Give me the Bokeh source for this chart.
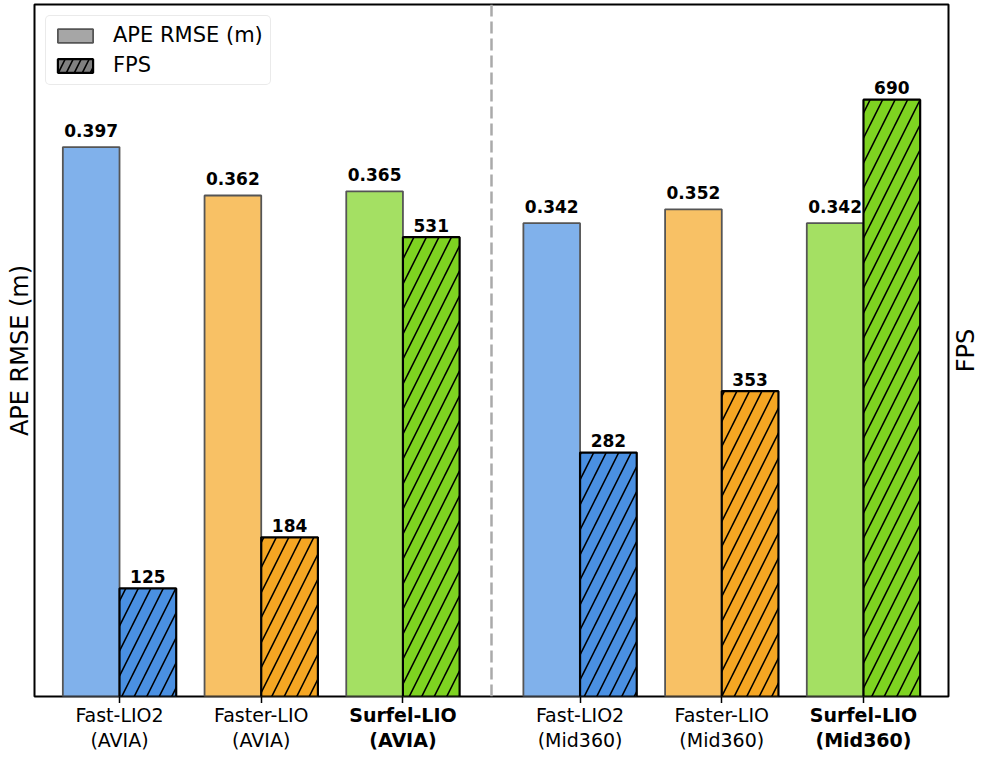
import math
from bokeh.plotting import figure
from bokeh.layouts import column, row
from bokeh.models import (Range1d, FixedTicker, Span,
                          Legend, LegendItem, ColumnDataSource)
from bokeh.core.properties import value
from bokeh.embed import file_html
from bokeh.resources import INLINE

# ---- data ----
methods = ["Fast-LIO2", "Faster-LIO", "Surfel-LIO", "Fast-LIO2", "Faster-LIO", "Surfel-LIO"]
sensors = ["AVIA", "AVIA", "AVIA", "Mid360", "Mid360", "Mid360"]
ape_rmse = [0.397, 0.362, 0.365, 0.342, 0.352, 0.342]
fps = [125, 184, 531, 282, 353, 690]
ours = [False, False, True, False, False, True]

# ---- styles ----
base_colors = ["#4A90E2", "#F5A623", "#7ED321"] * 2
FONT = "DejaVu Sans"
FW, FH = 914, 692
LB, MT = 34, 4
APE_MAX, FPS_MAX = 0.5, 800

pos = [i + (0.25 if s == "Mid360" else 0.0) for i, s in enumerate(sensors)]
bw = 0.4
ape_x = [q - bw / 2 for q in pos]
fps_x = [q + bw / 2 for q in pos]

xr = Range1d(-0.6, 5.85)
p = figure(frame_width=FW, frame_height=FH, output_backend="svg", toolbar_location=None,
           x_range=xr, y_range=Range1d(0, APE_MAX),
           min_border_left=LB, min_border_right=2, min_border_top=MT,
           min_border_bottom=0)
p.extra_y_ranges = {"fps": Range1d(0, FPS_MAX)}
p.xgrid.visible = False
p.ygrid.visible = False
p.outline_line_color = "black"
p.outline_line_width = 2

ya = p.yaxis[0]
ya.ticker = FixedTicker(ticks=[])
ya.axis_line_color = None
ya.major_tick_line_color = None
ya.minor_tick_line_color = None
ya.major_tick_out = 0
ya.major_tick_in = 0
ya.major_label_standoff = 0
ya.axis_label = "APE RMSE (m)"
ya.axis_label_text_font = FONT
ya.axis_label_text_font_size = "24px"
ya.axis_label_text_font_style = "normal"
ya.axis_label_text_color = "black"
ya.axis_label_standoff = 1

xa = p.xaxis[0]
xa.ticker = FixedTicker(ticks=pos)
xa.major_label_overrides = {q: "" for q in pos}
xa.major_label_text_font_size = "1px"
xa.major_label_standoff = 0
xa.axis_line_color = None
xa.major_tick_in = 0
xa.major_tick_out = 7
xa.major_tick_line_width = 1.5
xa.major_tick_line_color = "black"
xa.minor_tick_line_color = None

p.add_layout(Span(location=(pos[2] + pos[3]) / 2, dimension="height",
                  line_color="#aaaaaa", line_width=2.5, line_dash="12 5"))

src = ColumnDataSource(dict(ape_x=ape_x, fps_x=fps_x, ape=ape_rmse, fps=fps,
                            color=base_colors))
p.vbar(x="ape_x", top="ape", width=bw, source=src, fill_color="color",
       fill_alpha=0.7, line_color="#555555", line_width=1.8)
p.vbar(x="fps_x", top="fps", width=bw, source=src, y_range_name="fps",
       fill_color="color", line_color="black", line_width=2.2,
       hatch_pattern="/", hatch_color="black", hatch_weight=1.6, hatch_scale=25)

# value labels, a fixed pixel gap above each bar
ape_gap = 17 * APE_MAX / FH
fps_gap = 12 * FPS_MAX / FH
ape_txt = ["%.3f" % v for v in ape_rmse]
fps_txt = ["%d" % v for v in fps]
lsrc = ColumnDataSource(dict(ax=ape_x, ay=[v + ape_gap for v in ape_rmse], at=ape_txt,
                             fx=fps_x, fy=[v + fps_gap for v in fps], ft=fps_txt))
p.text(x="ax", y="ay", text="at", source=lsrc, text_font=value(FONT),
       text_font_style="bold", text_font_size="17px", text_align="center",
       text_baseline="alphabetic", text_color="black")
p.text(x="fx", y="fy", text="ft", source=lsrc, y_range_name="fps",
       text_font=value(FONT), text_font_style="bold", text_font_size="17px",
       text_align="center", text_baseline="alphabetic", text_color="black")

# legend (swatch renderers have zero height, outside the visible x range)
r_ape = p.vbar(x=[-10], top=[0], width=bw, fill_color="#a6a6a6", line_color="#555555",
               line_width=1.8)
r_fps = p.vbar(x=[-10], top=[0], width=bw, fill_color="#808080", line_color="black",
               line_width=2.2, hatch_pattern="/", hatch_color="black",
               hatch_weight=1.6, hatch_scale=16)
legend = Legend(items=[LegendItem(label="APE RMSE (m)", renderers=[r_ape]),
                       LegendItem(label="FPS", renderers=[r_fps])],
                location="top_left")
legend.label_text_font = FONT
legend.label_text_font_size = "21px"
legend.label_text_color = "black"
legend.glyph_width = 44
legend.glyph_height = 17
legend.label_height = 20
legend.label_standoff = 16
legend.spacing = 6
legend.padding = 7
legend.margin = 11
legend.border_line_color = "#d5d5d5"
legend.border_line_width = 1.5
legend.background_fill_alpha = 0.85
if "border_radius" in Legend.properties():
    legend.border_radius = 5
p.add_layout(legend)

# category labels, in a strip that shares the x range
p2 = figure(frame_width=FW, frame_height=50, output_backend="svg", toolbar_location=None,
            x_range=xr, y_range=Range1d(0, 1), x_axis_location=None,
            y_axis_location=None, min_border_left=LB, min_border_right=2,
            min_border_top=0, min_border_bottom=0)
p2.outline_line_color = None
p2.xgrid.visible = False
p2.ygrid.visible = False
cat_txt = [f"{m}\n({s})" for m, s in zip(methods, sensors)]
csrc = ColumnDataSource(dict(x=[q for q, b in zip(pos, ours) if not b],
                             t=[c for c, b in zip(cat_txt, ours) if not b]))
bsrc = ColumnDataSource(dict(x=[q for q, b in zip(pos, ours) if b],
                             t=[c for c, b in zip(cat_txt, ours) if b]))
for s, st in ((csrc, "normal"), (bsrc, "bold")):
    p2.text(x="x", y=1.0, text="t", source=s, text_font=value(FONT),
            text_font_style=st, text_font_size="19px", text_align="center",
            text_baseline="top", text_line_height=1.15, text_color="black")

# right-hand axis title (reads bottom to top)
p3 = figure(frame_width=30, frame_height=MT + FH, output_backend="svg",
            toolbar_location=None, x_range=Range1d(0, 1), y_range=Range1d(0, MT + FH),
            x_axis_location=None, y_axis_location=None, min_border_left=0,
            min_border_right=0, min_border_top=0, min_border_bottom=0)
p3.outline_line_color = None
p3.xgrid.visible = False
p3.ygrid.visible = False
p3.text(x=[0.5], y=[FH / 2], text=["FPS"], angle=math.pi / 2, text_font=value(FONT),
        text_font_size="24px", text_align="center", text_baseline="middle",
        text_color="black")

layout = row(column(p, p2, spacing=0), p3, spacing=0)
open("out.html", "w").write(file_html(layout, INLINE))
